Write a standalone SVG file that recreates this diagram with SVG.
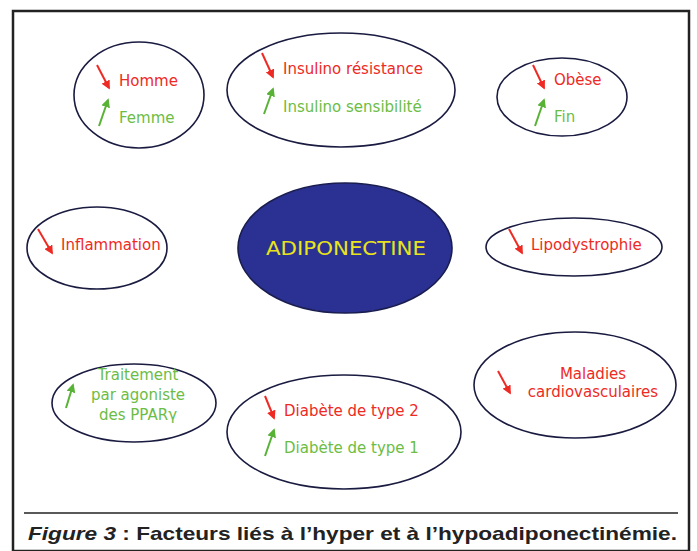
<svg xmlns="http://www.w3.org/2000/svg" width="697" height="551" viewBox="0 0 697 551">
<style>
.node ellipse{fill:#fff;stroke:#1a1b40;stroke-width:1.6}
.t{font-family:"DejaVu Sans",Verdana,sans-serif;font-size:15px}
.r{fill:#ee2a24}
.g{fill:#6cbd45}
.ar{stroke:#ee2a24;stroke-width:2;fill:none}
.ag{stroke:#58b236;stroke-width:2;fill:none}
</style>
<defs>
<marker id="mr" viewBox="0 0 10 10" refX="8" refY="5" markerWidth="4.5" markerHeight="4.5" orient="auto"><path d="M0,0 L10,5 L0,10 z" fill="#ee2a24"/></marker>
<marker id="mg" viewBox="0 0 10 10" refX="8" refY="5" markerWidth="4.5" markerHeight="4.5" orient="auto"><path d="M0,0 L10,5 L0,10 z" fill="#58b236"/></marker>
</defs>
<rect x="0" y="0" width="697" height="551" fill="#fff"/>
<rect x="13" y="11" width="676" height="540" fill="none" stroke="#222" stroke-width="2.5"/>
<line x1="24" y1="513" x2="678" y2="513" stroke="#222" stroke-width="1.3"/>
<text x="28" y="540" font-family="'Liberation Sans',Arial,sans-serif" font-size="18.5" font-weight="bold" fill="#222" textLength="649" lengthAdjust="spacingAndGlyphs"><tspan font-style="italic">Figure 3</tspan> : Facteurs liés à l’hyper et à l’hypoadiponectinémie.</text>

<g id="center" class="node">
<ellipse cx="345" cy="248" rx="107" ry="65" style="fill:#2b3192;stroke:#1a1d50"/>
<text x="346" y="255" text-anchor="middle" font-family="'DejaVu Sans',Verdana,sans-serif" font-size="19" fill="#e8e41a" textLength="160" lengthAdjust="spacingAndGlyphs">ADIPONECTINE</text>
</g>

<g id="sexe" class="node">
<ellipse cx="139" cy="95" rx="65" ry="53"/>
<text class="t r" x="119" y="86">Homme</text>
<text class="t g" x="119" y="123">Femme</text>
</g>

<g id="insulino" class="node">
<ellipse cx="341" cy="90" rx="114" ry="57"/>
<text class="t r" x="283" y="74">Insulino résistance</text>
<text class="t g" x="283" y="112">Insulino sensibilité</text>
</g>

<g id="obese" class="node">
<ellipse cx="562" cy="97" rx="65" ry="39"/>
<text class="t r" x="554" y="85">Obèse</text>
<text class="t g" x="554" y="122">Fin</text>
</g>

<g id="inflammation" class="node">
<ellipse cx="97" cy="248" rx="70" ry="41"/>
<text class="t r" x="61" y="250">Inflammation</text>
</g>

<g id="lipodystrophie" class="node">
<ellipse cx="574" cy="247" rx="88" ry="29"/>
<text class="t r" x="531" y="250">Lipodystrophie</text>
</g>

<g id="traitement" class="node">
<ellipse cx="134" cy="403" rx="82" ry="39"/>
<text class="t g" x="138" y="380" text-anchor="middle">Traitement</text>
<text class="t g" x="138" y="400" text-anchor="middle">par agoniste</text>
<text class="t g" x="138" y="420" text-anchor="middle">des PPARγ</text>
</g>

<g id="diabete" class="node">
<ellipse cx="344" cy="432" rx="117" ry="57"/>
<text class="t r" x="284" y="416">Diabète de type 2</text>
<text class="t g" x="284" y="453">Diabète de type 1</text>
</g>

<g id="maladies" class="node">
<ellipse cx="575" cy="385" rx="101" ry="53"/>
<text class="t r" x="593" y="379" text-anchor="middle">Maladies</text>
<text class="t r" x="593" y="397" text-anchor="middle">cardiovasculaires</text>
</g>

<g id="connectors">
<line class="ar" x1="97" y1="65" x2="109" y2="88" marker-end="url(#mr)"/>
<line class="ag" x1="99" y1="126" x2="108" y2="100" marker-end="url(#mg)"/>
<line class="ar" x1="262" y1="53" x2="273" y2="77" marker-end="url(#mr)"/>
<line class="ag" x1="264" y1="114" x2="273" y2="89" marker-end="url(#mg)"/>
<line class="ar" x1="533" y1="65" x2="544" y2="88" marker-end="url(#mr)"/>
<line class="ag" x1="535" y1="126" x2="544" y2="100" marker-end="url(#mg)"/>
<line class="ar" x1="38" y1="229" x2="52" y2="253" marker-end="url(#mr)"/>
<line class="ar" x1="509" y1="229" x2="522" y2="253" marker-end="url(#mr)"/>
<line class="ag" x1="66" y1="408" x2="73" y2="385" marker-end="url(#mg)"/>
<line class="ar" x1="265" y1="396" x2="274" y2="418" marker-end="url(#mr)"/>
<line class="ag" x1="265" y1="456" x2="274" y2="430" marker-end="url(#mg)"/>
<line class="ar" x1="498" y1="371" x2="510" y2="393" marker-end="url(#mr)"/>
</g>
</svg>
